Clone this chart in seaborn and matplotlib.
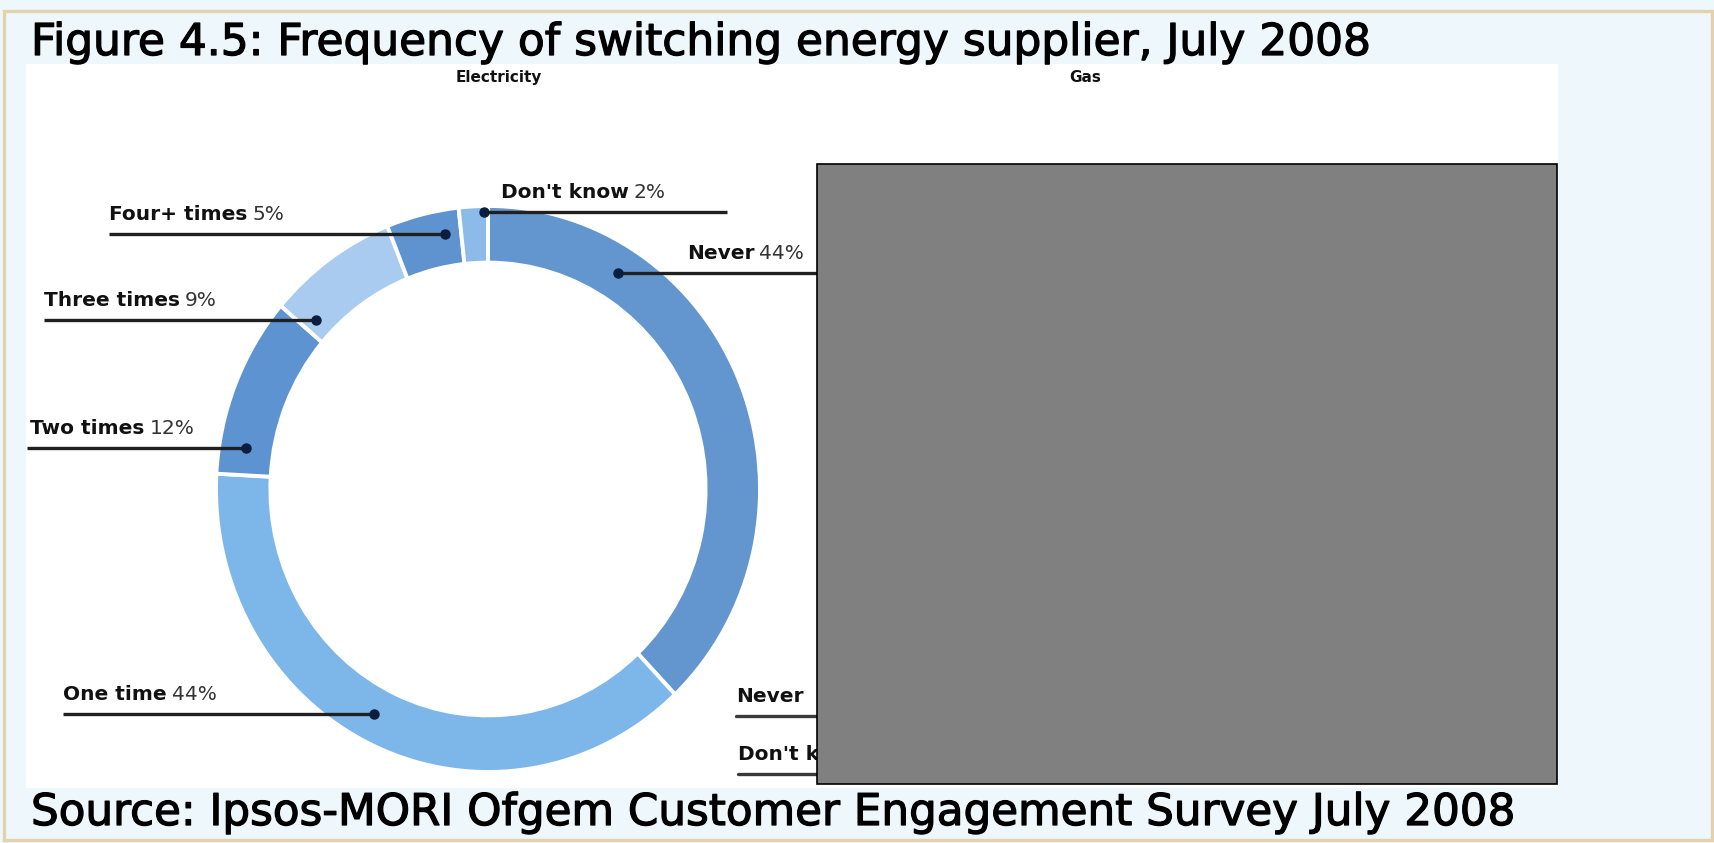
import numpy as np
import matplotlib
matplotlib.use("Agg")
import matplotlib.pyplot as plt
import matplotlib.patheffects as pe
from matplotlib.patches import Rectangle
import seaborn as sns

# ---- data -------------------------------------------------------------
categories = ["Never", "One time", "Two times", "Three times", "Four+ times", "Don't know"]
shares = [44, 44, 12, 9, 5, 2]
gas_categories = ["Never", "Don't know"]

title = "Figure 4.5: Frequency of switching energy supplier, July 2008"
source = "Source: Ipsos-MORI Ofgem Customer Engagement Survey July 2008"
panel_titles = ["Electricity", "Gas"]

# ---- styling ----------------------------------------------------------
sns.set_theme(style="white")
plt.rcParams["font.family"] = ["DejaVu Sans"]
slice_colors = sns.color_palette(
    ["#6396CF", "#7DB7EA", "#5D93D1", "#AACBF0", "#5F93CF", "#8CBBEA"])

W, H = 1715, 843
CX, CY, RX, RY = 488, 489, 272, 283      # donut centre / radii in pixels

# label layout in pixels: text start, leader-line y, side, outer end of line
label_x = [687, 63, 30, 44, 109, 501]
label_line_y = [273, 714, 448, 320, 234, 211]
label_side = ["right", "left", "left", "left", "left", "right"]
line_end_x = [830, 63, 27, 44, 109, 727]


def fx(px):
    return px / W


def fy(py):
    return 1 - py / H


def px_y(y):
    return CY - y * RY


fig = plt.figure(figsize=(W / 100, H / 100), dpi=100)
fig.patch.set_facecolor("#EEF7FC")
renderer = fig.canvas.get_renderer()

# white chart panel and thin frame
fig.add_artist(Rectangle((fx(26), fy(788)), (1558 - 26) / W, (788 - 64) / H,
                         transform=fig.transFigure, facecolor="white",
                         edgecolor="none", zorder=0.1))
fig.add_artist(Rectangle((fx(4), fy(840)), (1712 - 4) / W, (840 - 11) / H,
                         transform=fig.transFigure, fill=False,
                         edgecolor="#E2D2B0", linewidth=2.4, zorder=0.2))

# ---- electricity donut ------------------------------------------------
ax = fig.add_axes([fx(CX - RX), fy(CY + RY), 2 * RX / W, 2 * RY / H])
ax.set_zorder(1)
ax.patch.set_alpha(0)
wedges, _ = ax.pie(shares, colors=slice_colors, startangle=90, counterclock=False,
                   radius=1.0,
                   wedgeprops=dict(width=0.2, edgecolor="white", linewidth=2.8))
ax.set_aspect("auto")
ax.set_xlim(-1, 1)
ax.set_ylim(-1, 1)
ax.axis("off")


def anchor_on_wedge(w, y_target, side):
    """Point inside a wedge whose height is as close as possible to y_target."""
    lo, hi = w.theta1, w.theta2
    m = min(0.15 * (hi - lo), 3.0)
    ang = np.radians(np.linspace(lo + m, hi - m, 500))
    rad = np.linspace(0.83, 0.98, 31)
    A, R = np.meshgrid(ang, rad)
    X, Y = R * np.cos(A), R * np.sin(A)
    pref = X if side == "left" else -X
    cost = np.abs(Y - y_target) + 0.3 * np.abs(R - 0.9) + 0.02 * pref
    i = np.unravel_index(np.argmin(cost), cost.shape)
    return X[i], Y[i]


label_size = 14.5
for w, name, v, lx, ly, side, ex in zip(wedges, categories, shares, label_x,
                                        label_line_y, label_side, line_end_x):
    x, y = anchor_on_wedge(w, (CY - ly) / RY, side)
    end = (ex - CX) / RX
    ax.plot([x, end], [y, y], color="#202020", lw=2.4, clip_on=False,
            solid_capstyle="butt", zorder=3)
    ax.plot([x], [y], "o", color="#0B1E3F", ms=6.5, clip_on=False, zorder=4)
    base = px_y(y) - 14
    t1 = fig.text(fx(lx), fy(base), name, fontsize=label_size, fontweight="bold",
                  va="baseline", ha="left", color="#111111", zorder=3)
    bb = t1.get_window_extent(renderer)
    fig.text(fx(bb.x1 + 5), fy(base), f"{v}%", fontsize=label_size,
             va="baseline", ha="left", color="#333333", zorder=3)

# ---- gas panel labels (chart body masked) -----------------------------
for name, lx, ly in zip(gas_categories, [736, 738], [716, 774]):
    fig.text(fx(lx), fy(ly - 14), name, fontsize=label_size, fontweight="bold",
             va="baseline", ha="left", color="#111111", zorder=3)
    fig.add_artist(plt.Line2D([fx(lx), fx(840)], [fy(ly), fy(ly)],
                              transform=fig.transFigure, color="#3a3a3a",
                              lw=2.4, zorder=3))

fig.add_artist(Rectangle((fx(817), fy(784)), (1557 - 817) / W, (784 - 164) / H,
                         transform=fig.transFigure, facecolor="#808080",
                         edgecolor="black", linewidth=1.2, zorder=5))

# ---- panel titles, heading and source ---------------------------------
for s, cx in zip(panel_titles, [499, 1085]):
    fig.text(fx(cx), fy(82), s, fontsize=11, fontweight="bold",
             ha="center", va="baseline", color="#111111", zorder=3)


def fit_text(x_px, base_px, s, target_w, size0):
    t = fig.text(fx(x_px), fy(base_px), s, fontsize=size0, va="baseline",
                 ha="left", color="black", zorder=3,
                 path_effects=[pe.withStroke(linewidth=0.9, foreground="black")])
    wdt = t.get_window_extent(renderer).width
    t.set_fontsize(size0 * target_w / wdt)
    return t


fit_text(31, 55, title, 1340, 26)
fit_text(31, 825, source, 1484, 26)

fig.savefig("out.png", dpi=100, facecolor=fig.get_facecolor())
